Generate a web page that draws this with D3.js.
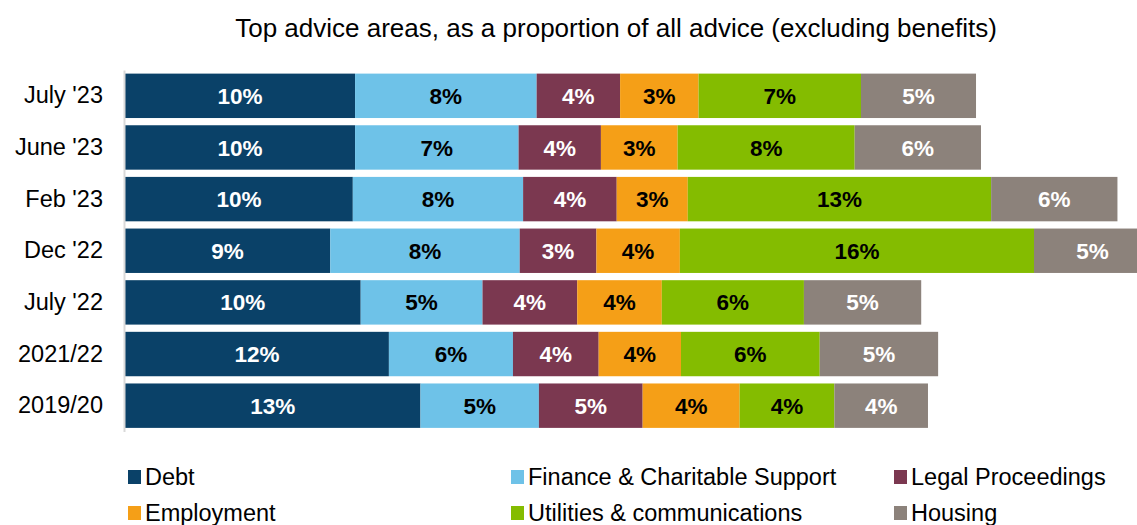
<!DOCTYPE html>
<html>
<head>
<meta charset="utf-8">
<script src="https://cdn.jsdelivr.net/npm/d3@7"></script>
<style>
  body { margin: 0; background: #fff; }
  svg { display: block; font-family: "Liberation Sans", Arial, sans-serif; }
</style>
</head>
<body>
<svg id="chart" width="1137" height="525"></svg>
<script>
// periods, top to bottom
const categories = ["July '23", "June '23", "Feb '23", "Dec '22", "July '22", "2021/22", "2019/20"];
const seriesNames = ["Debt", "Finance & Charitable Support", "Legal Proceedings", "Employment", "Utilities & communications", "Housing"];

// share of all advice, %
const debt       = [10.2, 10.2, 10.1, 9.1, 10.45, 11.7, 13.1];
const finance    = [8.05, 7.25, 7.55, 8.4, 5.4, 5.5, 5.25];
const legal      = [3.7, 3.65, 4.15, 3.4, 4.2, 3.8, 4.6];
const employment = [3.48, 3.4, 3.15, 3.7, 3.75, 3.65, 4.3];
const utilities  = [7.2, 7.85, 13.45, 15.7, 6.3, 6.15, 4.2];
const housing    = [5.1, 5.6, 5.6, 5.2, 5.2, 5.25, 4.15];

const colors = ["#0a4168", "#6ec2e8", "#7b3850", "#f59f17", "#84bc00", "#8c827b"];
const labelColors = ["#fff", "#000", "#fff", "#000", "#000", "#fff"];

const seriesValues = [debt, finance, legal, employment, utilities, housing];
const table = categories.map((c, i) => {
    let row = { period: c };
    seriesNames.forEach((s, j) => { row[s] = seriesValues[j][i]; });
    return row;
});

const svg = d3.select("#chart");
const left = 125;

const x = d3.scaleLinear().domain([0, 45]).range([left, left + 1015]);
const y = d3.scaleBand().domain(categories).range([70, 431.5])
    .paddingInner(0.14).paddingOuter(0.07);

const stack = d3.stack().keys(seriesNames)(table);

// title
svg.append("text")
    .attr("x", 616)
    .attr("y", 37)
    .attr("text-anchor", "middle")
    .style("font-size", "26px")
    .text("Top advice areas, as a proportion of all advice (excluding benefits)");

const layers = svg.selectAll("g.layer")
    .data(stack)
    .enter().append("g")
    .attr("class", "layer")
    .attr("fill", (d, i) => colors[i]);

layers.selectAll("rect")
    .data(d => d)
    .enter().append("rect")
    .attr("x", d => x(d[0]))
    .attr("y", d => y(d.data.period))
    .attr("width", d => x(d[1]) - x(d[0]))
    .attr("height", y.bandwidth());

layers.selectAll("text")
    .data((d, i) => d.map(p => ({ p: p, i: i })))
    .enter().append("text")
    .attr("x", d => (x(d.p[0]) + x(d.p[1])) / 2)
    .attr("y", d => y(d.p.data.period) + y.bandwidth() / 2)
    .attr("dy", "0.36em")
    .attr("text-anchor", "middle")
    .attr("fill", d => labelColors[d.i])
    .style("font-size", "22.5px")
    .style("font-weight", "bold")
    .text(d => Math.round(d.p[1] - d.p[0]) + "%");

// category axis
const axis = svg.append("g")
    .attr("transform", "translate(" + (left - 1) + ",0)")
    .call(d3.axisLeft(y).tickSize(0).tickSizeOuter(0).tickPadding(21));
axis.select(".domain").attr("stroke", "#d9d9d9").attr("stroke-width", 2);
axis.selectAll(".tick text")
    .attr("fill", "#000")
    .style("font-size", "23.5px")
    .style("font-family", "'Liberation Sans', Arial, sans-serif");

// legend
const legendCols = [128, 511, 894];
const legendRows = [477, 513];
const legend = svg.selectAll("g.legend")
    .data(seriesNames)
    .enter().append("g")
    .attr("class", "legend")
    .attr("transform", (d, i) => "translate(" + legendCols[i % 3] + "," + legendRows[Math.floor(i / 3)] + ")");

legend.append("rect")
    .attr("x", 0)
    .attr("y", -7)
    .attr("width", 13)
    .attr("height", 14)
    .attr("fill", (d, i) => colors[i]);

legend.append("text")
    .attr("x", 17)
    .attr("dy", "0.36em")
    .style("font-size", "23.5px")
    .text(d => d);
</script>
</body>
</html>
